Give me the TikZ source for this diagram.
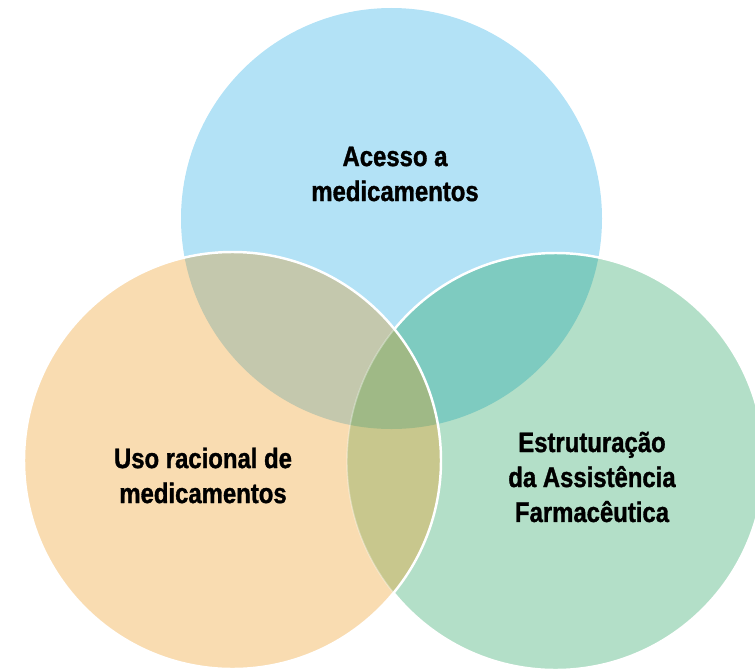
\documentclass[tikz,border=0pt]{standalone}
\usepackage{fontspec}
\setmainfont{Liberation Sans}[FakeStretch=0.85, BoldFeatures={FakeBold=1.2}]
\usepackage{xcolor}
\usetikzlibrary{positioning}

\definecolor{accblue}{HTML}{B3E2F6}
\definecolor{usoorange}{HTML}{F9DCB1}
\definecolor{estgreen}{HTML}{B3DFC8}
\definecolor{accuso}{HTML}{C4C8AD}
\definecolor{accest}{HTML}{7ECBC0}
\definecolor{usoest}{HTML}{C8C78D}
\definecolor{allthree}{HTML}{9FB986}

\begin{document}
\begin{tikzpicture}[
  lbl/.style={font=\bfseries\fontsize{16}{19.9}\selectfont, align=center, text=black},
  rim/.style={draw=white, line width=1.4pt}
]
  \useasboundingbox (0,0) rectangle (15.1,13.38);
  \coordinate (acc) at (7.83,9.01);
  \coordinate (uso) at (4.65,4.17);
  \coordinate (est) at (11.11,4.15);
  \def\racc{4.21}
  \def\ruso{4.17}
  \def\rest{4.17}

  % the three circles
  \fill[accblue] (acc) circle (\racc);
  \fill[estgreen] (est) circle (\rest);
  \fill[usoorange] (uso) circle (\ruso);

  % overlaps
  \begin{scope}
    \clip (acc) circle (\racc);
    \fill[accuso] (uso) circle (\ruso);
    \fill[accest] (est) circle (\rest);
  \end{scope}
  \begin{scope}
    \clip (uso) circle (\ruso);
    \fill[usoest] (est) circle (\rest);
    \clip (est) circle (\rest);
    \fill[allthree] (acc) circle (\racc);
  \end{scope}

  % white rims
  \begin{scope}[even odd rule]
    \clip (-1,-1) rectangle (16,14) (uso) circle (\ruso);
    \draw[rim] (est) circle (\rest);
  \end{scope}
  \begin{scope}
    \clip (uso) circle (\ruso);
    \draw[white, opacity=0.35, line width=0.8pt] (est) circle (\rest);
  \end{scope}
  \draw[rim] (uso) circle (\ruso);

  % labels
  \node[lbl] (lacc) at (7.9,9.9) {Acesso a\\medicamentos};
  \node[lbl] (luso) at (4.06,3.87) {Uso racional de\\medicamentos};
  \node[lbl] (lest) at (11.84,3.84) {Estruturação\\da Assistência\\Farmacêutica};
\end{tikzpicture}
\end{document}
